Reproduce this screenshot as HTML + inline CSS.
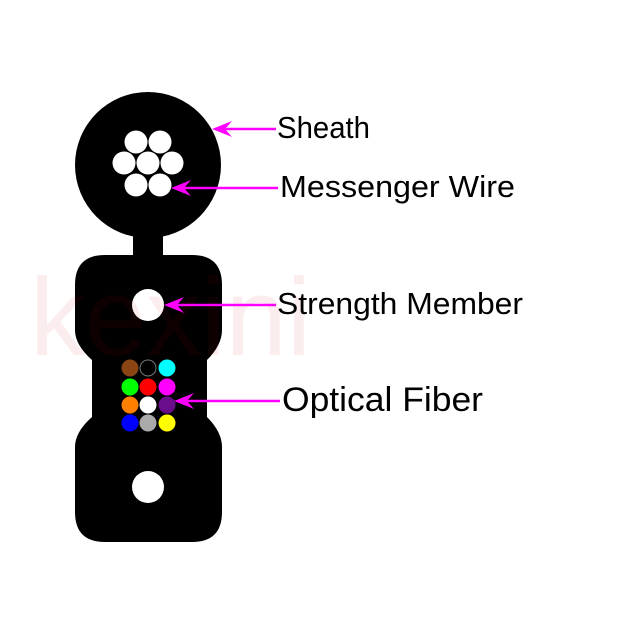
<!DOCTYPE html>
<html><head><style>body{margin:0;background:#fff}svg{display:block}</style></head><body>
<svg width="640" height="640" viewBox="0 0 640 640" xmlns="http://www.w3.org/2000/svg">
<rect width="640" height="640" fill="#fff"/>
<circle cx="148" cy="165" r="73" fill="#000"/>
<rect x="133" y="228" width="30" height="30" fill="#000"/>
<path d="M105 255 H192 Q222 255 222 285 V330 Q222 345 207 360 V417 Q222 432 222 447 V512 Q222 542 192 542 H105 Q75 542 75 512 V447 Q75 432 92 417 V360 Q75 345 75 330 V285 Q75 255 105 255 Z" fill="#000"/>
<g fill="#fff">
<circle cx="136" cy="142" r="11.5"/><circle cx="160" cy="142" r="11.5"/>
<circle cx="124" cy="163" r="11.5"/><circle cx="148" cy="163" r="11.5"/><circle cx="172" cy="163" r="11.5"/>
<circle cx="136" cy="185" r="11.5"/><circle cx="160" cy="185" r="11.5"/>
<circle cx="148" cy="305" r="16"/><circle cx="148" cy="487" r="16"/>
</g>
<text x="30" y="355" font-family="Liberation Sans, sans-serif" font-size="110" fill="#c00" fill-opacity="0.07">kexini</text>
<circle cx="130" cy="368" r="8.5" fill="#8b4513"/><circle cx="148" cy="368" r="8" fill="#000" stroke="#777" stroke-width="1"/><circle cx="167" cy="368" r="8.5" fill="#0ff"/>
<circle cx="130" cy="387" r="8.5" fill="#0f0"/><circle cx="148" cy="387" r="8.5" fill="#f00"/><circle cx="167" cy="387" r="8.5" fill="#f0f"/>
<circle cx="130" cy="405" r="8.5" fill="#ff7f00"/><circle cx="148" cy="405" r="8.5" fill="#fff"/><circle cx="167" cy="405" r="8.5" fill="#6a0d8a"/>
<circle cx="130" cy="423" r="8.5" fill="#00f"/><circle cx="148" cy="423" r="8.5" fill="#aaa"/><circle cx="167" cy="423" r="8.5" fill="#ff0"/>
<g stroke="#f0f" stroke-width="2.5">
<line x1="220" y1="129" x2="276" y2="129"/>
<line x1="180" y1="188" x2="278" y2="188"/>
<line x1="172" y1="305" x2="276" y2="305"/>
<line x1="182" y1="401" x2="280" y2="401"/>
</g>
<g fill="#f0f">
<path d="M212 129 L232 121 L225 129 L232 137 Z"/>
<path d="M171 188 L191 180 L184 188 L191 196 Z"/>
<path d="M164 305 L184 297 L177 305 L184 313 Z"/>
<path d="M174 401 L194 393 L187 401 L194 409 Z"/>
</g>
<g font-family="Liberation Sans, sans-serif" fill="#000">
<text x="277" y="138" font-size="31" textLength="93" lengthAdjust="spacingAndGlyphs">Sheath</text>
<text x="280" y="197" font-size="31" textLength="235" lengthAdjust="spacingAndGlyphs">Messenger Wire</text>
<text x="277" y="314" font-size="31" textLength="246" lengthAdjust="spacingAndGlyphs">Strength Member</text>
<text x="282" y="411" font-size="34" textLength="201" lengthAdjust="spacingAndGlyphs">Optical Fiber</text>
</g>
</svg>
</body></html>
